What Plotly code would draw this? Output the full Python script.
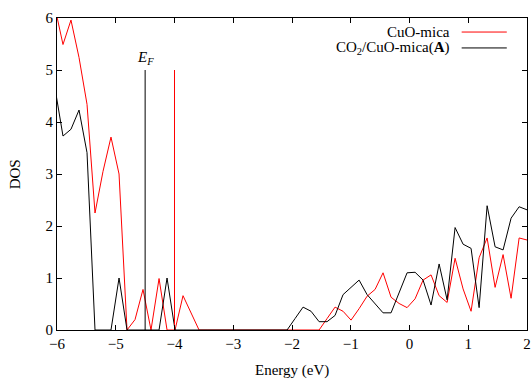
import plotly.graph_objects as go

# Energy grid (eV)
energy = [-6.034, -5.898, -5.762, -5.625, -5.489, -5.353, -5.217, -5.081, -4.944, -4.808,
          -4.672, -4.536, -4.400, -4.263, -4.127, -3.991, -3.855, -3.719, -3.582, -3.446,
          -3.310, -3.174, -3.038, -2.901, -2.765, -2.629, -2.493, -2.357, -2.220, -2.084,
          -1.948, -1.812, -1.676, -1.539, -1.403, -1.267, -1.131, -0.995, -0.858, -0.722,
          -0.586, -0.450, -0.314, -0.177, -0.041, 0.095, 0.231, 0.367, 0.504, 0.640,
          0.776, 0.912, 1.048, 1.185, 1.321, 1.457, 1.593, 1.729, 1.866, 2.002]

dos_cuo_mica = [6.2, 5.49, 5.96, 5.24, 4.34, 2.25, 3.05, 3.71, 3.0, 0.0,
                0.2, 0.78, 0.0, 0.99, 0.0, 0.0, 0.66, 0.33, 0.0, 0.0,
                0.0, 0.0, 0.0, 0.0, 0.0, 0.0, 0.0, 0.0, 0.0, 0.0,
                0.0, 0.0, 0.0, 0.0, 0.22, 0.44, 0.36, 0.19, 0.41, 0.65,
                0.78, 1.10, 0.63, 0.51, 0.43, 0.60, 0.96, 1.06, 0.66, 0.53,
                1.38, 0.79, 0.36, 1.39, 1.77, 0.82, 1.45, 0.61, 1.77, 1.73]

dos_co2_cuo_mica = [4.65, 3.73, 3.86, 4.23, 3.41, 0.0, 0.0, 0.0, 1.0, 0.0,
                    0.0, 0.0, 0.0, 0.0, 1.0, 0.0, 0.0, 0.0, 0.0, 0.0,
                    0.0, 0.0, 0.0, 0.0, 0.0, 0.0, 0.0, 0.0, 0.0, 0.0,
                    0.22, 0.44, 0.36, 0.16, 0.16, 0.28, 0.68, 0.82, 0.96, 0.68,
                    0.50, 0.33, 0.33, 0.71, 1.10, 1.11, 0.96, 0.48, 1.27, 0.58,
                    1.97, 1.65, 1.57, 0.43, 2.39, 1.60, 1.54, 2.15, 2.37, 2.31]

# Fermi level markers and their height
fermi_black = -4.5
fermi_red = -4.0
fermi_height = 5.0

series_names = ["CuO-mica", "CO<sub>2</sub>/CuO-mica(<b>A</b>)"]
series_colors = ["#ff0000", "#000000"]

x_ticks = [-6, -5, -4, -3, -2, -1, 0, 1, 2]
y_ticks = [0, 1, 2, 3, 4, 5, 6]

FONT = "Liberation Serif"

fig = go.Figure()
fig.add_trace(go.Scatter(x=energy, y=dos_cuo_mica, mode="lines",
                         line=dict(color=series_colors[0], width=1), showlegend=False))
fig.add_trace(go.Scatter(x=energy, y=dos_co2_cuo_mica, mode="lines",
                         line=dict(color=series_colors[1], width=1), showlegend=False))
fig.add_trace(go.Scatter(x=[fermi_black, fermi_black], y=[0, fermi_height], mode="lines",
                         line=dict(color="#000000", width=1), showlegend=False))
fig.add_trace(go.Scatter(x=[fermi_red, fermi_red], y=[0, fermi_height], mode="lines",
                         line=dict(color="#ff0000", width=1), showlegend=False))

fig.add_annotation(x=fermi_black, y=fermi_height, text="<i>E</i><sub><i>F</i></sub>",
                   showarrow=False, yanchor="bottom", xanchor="center", yshift=1,
                   font=dict(family=FONT, size=15, color="black"))

# manual gnuplot-style key (text on the left, line sample on the right)
key_rows_y = [0.955, 0.904]
for name, col, yy in zip(series_names, series_colors, key_rows_y):
    fig.add_annotation(xref="paper", yref="paper", x=0.840, y=yy, text=name,
                       showarrow=False, xanchor="right", yanchor="middle",
                       font=dict(family=FONT, size=15, color="black"))
    fig.add_shape(type="line", xref="paper", yref="paper", x0=0.861, x1=0.957,
                  y0=yy, y1=yy, line=dict(color=col, width=1))

# axis titles
fig.add_annotation(xref="paper", yref="paper", x=0.5, y=-0.129, text="Energy (eV)",
                   showarrow=False, xanchor="center", yanchor="middle",
                   font=dict(family=FONT, size=15, color="black"))
fig.add_annotation(xref="paper", yref="paper", x=-0.0894, y=0.499, text="DOS",
                   showarrow=False, xanchor="center", yanchor="middle", textangle=-90,
                   font=dict(family=FONT, size=15, color="black"))

axis_common = dict(showline=True, linecolor="black", linewidth=1, mirror="allticks",
                   ticks="inside", ticklen=5, tickcolor="black", tickwidth=1,
                   showgrid=False, zeroline=False, automargin=False,
                   tickfont=dict(family=FONT, size=15, color="black"))

fig.update_xaxes(range=[-6, 2], tickvals=x_ticks, **axis_common)
fig.update_yaxes(range=[0, 6], tickvals=y_ticks, **axis_common)

fig.update_layout(width=531, height=382, margin=dict(l=57, r=4, t=18, b=52),
                  plot_bgcolor="white", paper_bgcolor="white",
                  font=dict(family=FONT, color="black"))

fig.write_html("out.html", config={"displayModeBar": False},
               post_script="document.body.style.margin='0';document.body.style.overflow='hidden';")
